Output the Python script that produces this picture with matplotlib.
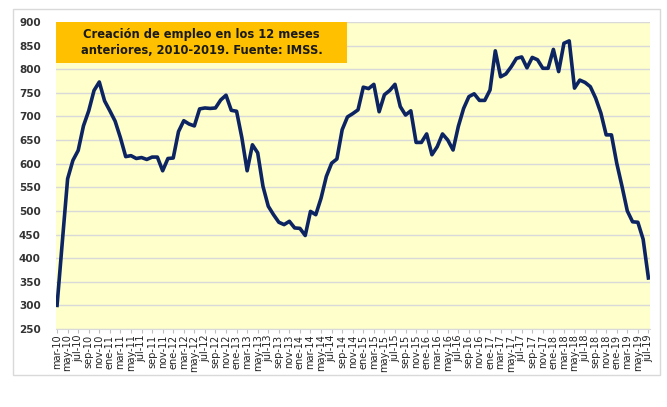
import matplotlib.pyplot as plt
import matplotlib.patches as patches

# Monthly data, mar-2010 .. jul-2019 (thousands of jobs, 12-month creation)
meses = ['ene', 'feb', 'mar', 'abr', 'may', 'jun', 'jul', 'ago', 'sep', 'oct', 'nov', 'dic']
start_year = 2010
start_month = 3  # mar
empleo = [
    300, 435, 568, 607, 628, 680, 712, 755, 773, 733,   # mar-10 .. dic-10
    712, 690, 655, 615, 617, 611, 613, 609, 614, 614, 585, 611,   # 2011
    612, 668, 691, 684, 680, 716, 718, 717, 718, 735, 745, 713,   # 2012
    711, 655, 585, 640, 623, 552, 510, 492, 476, 471, 478, 464,   # 2013
    463, 448, 499, 492, 527, 573, 601, 610, 672, 699, 706, 714,   # 2014
    762, 759, 768, 710, 746, 755, 768, 721, 703, 712, 645, 645,   # 2015
    663, 619, 636, 663, 650, 629, 679, 717, 742, 748, 734, 734,   # 2016
    756, 839, 784, 790, 805, 823, 826, 803, 825, 820, 802, 802,   # 2017
    842, 795, 855, 860, 760, 777, 772, 763, 739, 707, 661, 661,   # 2018
    601, 552, 500, 477, 476, 440, 358,                             # 2019
]
titulo = 'Creación de empleo en los 12 meses\nanteriores, 2010-2019. Fuente: IMSS.'

labels = []
for k in range(len(empleo)):
    m = (start_month - 1 + k) % 12
    y = start_year + (start_month - 1 + k) // 12
    labels.append(f'{meses[m]}-{y % 100:02d}')

W, H = 667, 407
fig = plt.figure(figsize=(W / 100, H / 100), dpi=100)
fig.patch.set_facecolor('white')

# outer chart border
fig.patches.append(patches.Rectangle((13 / W, 1 - 375 / H), (660 - 13) / W, (375 - 9) / H,
                                     transform=fig.transFigure, fill=False,
                                     edgecolor='#D9D9D9', linewidth=1))

left, right, top, bottom = 56, 650, 22, 329
ax = fig.add_axes([left / W, 1 - bottom / H, (right - left) / W, (bottom - top) / H])
ax.set_facecolor('#FFFFCC')

x = list(range(len(empleo)))
ax.plot(x, empleo, color='#0C2461', linewidth=2.6, solid_joinstyle='round', zorder=3)

ax.set_ylim(250, 900)
ax.set_xlim(-0.2, 112.3)
ax.set_yticks(range(250, 901, 50))
ax.grid(axis='y', color='#D9D9D9', linewidth=1)
ax.set_axisbelow(True)

ax.set_xticks(x[::2])
ax.set_xticklabels(labels[::2], rotation=90, fontsize=7, color='#222222')
ax.tick_params(axis='x', length=3, color='#BFBFBF', pad=1)
ax.tick_params(axis='y', length=0, pad=11, labelsize=7.5, labelcolor='#333333')
for t in ax.get_yticklabels():
    t.set_fontweight('bold')

for s in ['top', 'right', 'left']:
    ax.spines[s].set_visible(False)
ax.spines['bottom'].set_color('#D9D9D9')

# title box
bw = (347 - left) / (right - left)
bh = (63 - top) / (bottom - top)
ax.add_patch(patches.Rectangle((0, 1 - bh), bw, bh, transform=ax.transAxes,
                               facecolor='#FFC000', edgecolor='none', zorder=4))
ax.text(bw / 2, 1 - bh / 2, titulo, transform=ax.transAxes, ha='center', va='center',
        fontsize=8.3, fontweight='bold', color='#1A1A1A', linespacing=1.3, zorder=5)

fig.savefig('out.png', dpi=100)
